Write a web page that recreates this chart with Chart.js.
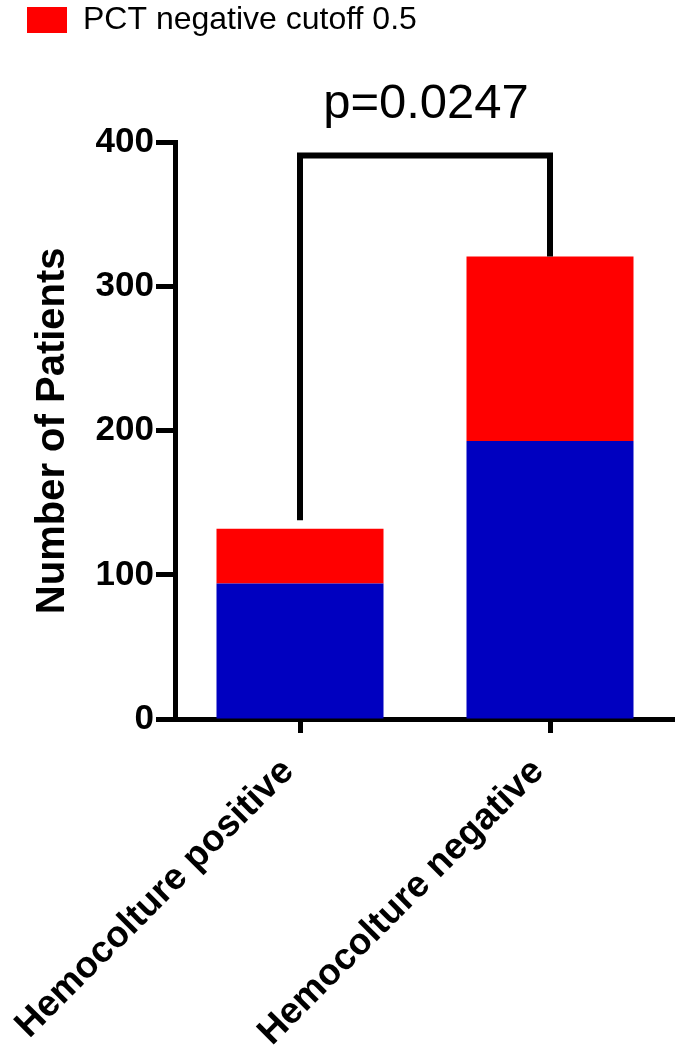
<!DOCTYPE html>
<html>
<head>
<meta charset="utf-8">
<script src="https://cdn.jsdelivr.net/npm/chart.js@4/dist/chart.umd.min.js"></script>
<style>
  html, body { margin: 0; padding: 0; background: #fff; }
  #wrap { width: 675px; height: 1056px; position: relative; }
</style>
</head>
<body>
<div id="wrap"><canvas id="c"></canvas></div>
<script>
// ---- data ----
const categories = ['Hemocolture positive', 'Hemocolture negative'];
const seriesLabels = ['PCT positive cutoff 0.5', 'PCT negative cutoff 0.5'];
const pctPositiveValues = [94, 193];
const pctNegativeValues = [38, 128];
const yMin = 0, yMax = 400, yStep = 100;
const yAxisTitle = 'Number of Patients';
const pValueText = 'p=0.0247';
const bracketLegEnds = [138, 321];
const bracketTop = 391;
const pValueBaseline = 417;

Chart.defaults.font.family = '"Liberation Sans", Arial, sans-serif';
Chart.defaults.color = '#000';

const bracketPlugin = {
  id: 'bracket',
  afterDatasetsDraw(chart) {
    const ctx = chart.ctx;
    const xs = chart.scales.x, ys = chart.scales.y;
    const x0 = xs.getPixelForValue(0), x1 = xs.getPixelForValue(1);
    const yTop = ys.getPixelForValue(bracketTop);
    ctx.save();
    ctx.strokeStyle = '#000';
    ctx.lineWidth = 6;
    ctx.lineJoin = 'miter';
    ctx.lineCap = 'butt';
    ctx.beginPath();
    ctx.moveTo(x0, ys.getPixelForValue(bracketLegEnds[0]));
    ctx.lineTo(x0, yTop);
    ctx.lineTo(x1, yTop);
    ctx.lineTo(x1, ys.getPixelForValue(bracketLegEnds[1]));
    ctx.stroke();
    ctx.fillStyle = '#000';
    ctx.font = '49px "Liberation Sans", Arial, sans-serif';
    ctx.textAlign = 'center';
    ctx.textBaseline = 'alphabetic';
    ctx.fillText(pValueText, (x0 + x1) / 2 + 1, ys.getPixelForValue(pValueBaseline));
    ctx.restore();
  }
};

new Chart(document.getElementById('c'), {
  type: 'bar',
  data: {
    labels: categories,
    datasets: [
      { label: seriesLabels[0], data: pctPositiveValues, backgroundColor: '#0000C0', borderWidth: 0 },
      { label: seriesLabels[1], data: pctNegativeValues, backgroundColor: '#FF0000', borderWidth: 0 }
    ]
  },
  options: {
    responsive: true,
    maintainAspectRatio: false,
    animation: false,
    layout: { padding: { left: 23, right: 0, top: 0, bottom: 0 } },
    datasets: { bar: { barPercentage: 0.668, categoryPercentage: 1.0 } },
    plugins: {
      legend: {
        display: true,
        position: 'top',
        align: 'start',
        weight: 3000,
        labels: {
          boxWidth: 40,
          boxHeight: 26,
          padding: 4,
          font: { size: 32 },
          color: '#000',
          filter: (item) => item.datasetIndex === 1
        }
      },
      subtitle: {
        display: true,
        text: '',
        font: { size: 10, lineHeight: 1 },
        padding: { top: 86.6, bottom: 0 }
      },
      tooltip: { enabled: false }
    },
    scales: {
      x: {
        stacked: true,
        grid: { display: true, offset: false, drawOnChartArea: false, drawTicks: true, tickLength: 14, tickWidth: 5, tickColor: '#000' },
        border: { display: true, width: 5, color: '#000' },
        ticks: { minRotation: 45, maxRotation: 45, padding: 17, labelOffset: -12, font: { size: 37, weight: 'bold' }, color: '#000' },
        afterFit(scale) { scale.height = 1056 - 719; scale.paddingLeft = 0; scale.paddingRight = 0; }
      },
      y: {
        stacked: true,
        min: yMin, max: yMax,
        grid: { display: true, drawOnChartArea: false, drawTicks: true, tickLength: 19, tickWidth: 5, tickColor: '#000' },
        border: { display: true, width: 5, color: '#000' },
        ticks: { stepSize: yStep, padding: 2, font: { size: 35, weight: 'bold' }, color: '#000' },
        title: { display: true, text: yAxisTitle, font: { size: 40, weight: 'bold' }, color: '#000', padding: { top: 6, bottom: 0 } },
        afterFit(scale) { scale.width = 175 - 23; }
      }
    }
  },
  plugins: [bracketPlugin]
});
</script>
</body>
</html>
